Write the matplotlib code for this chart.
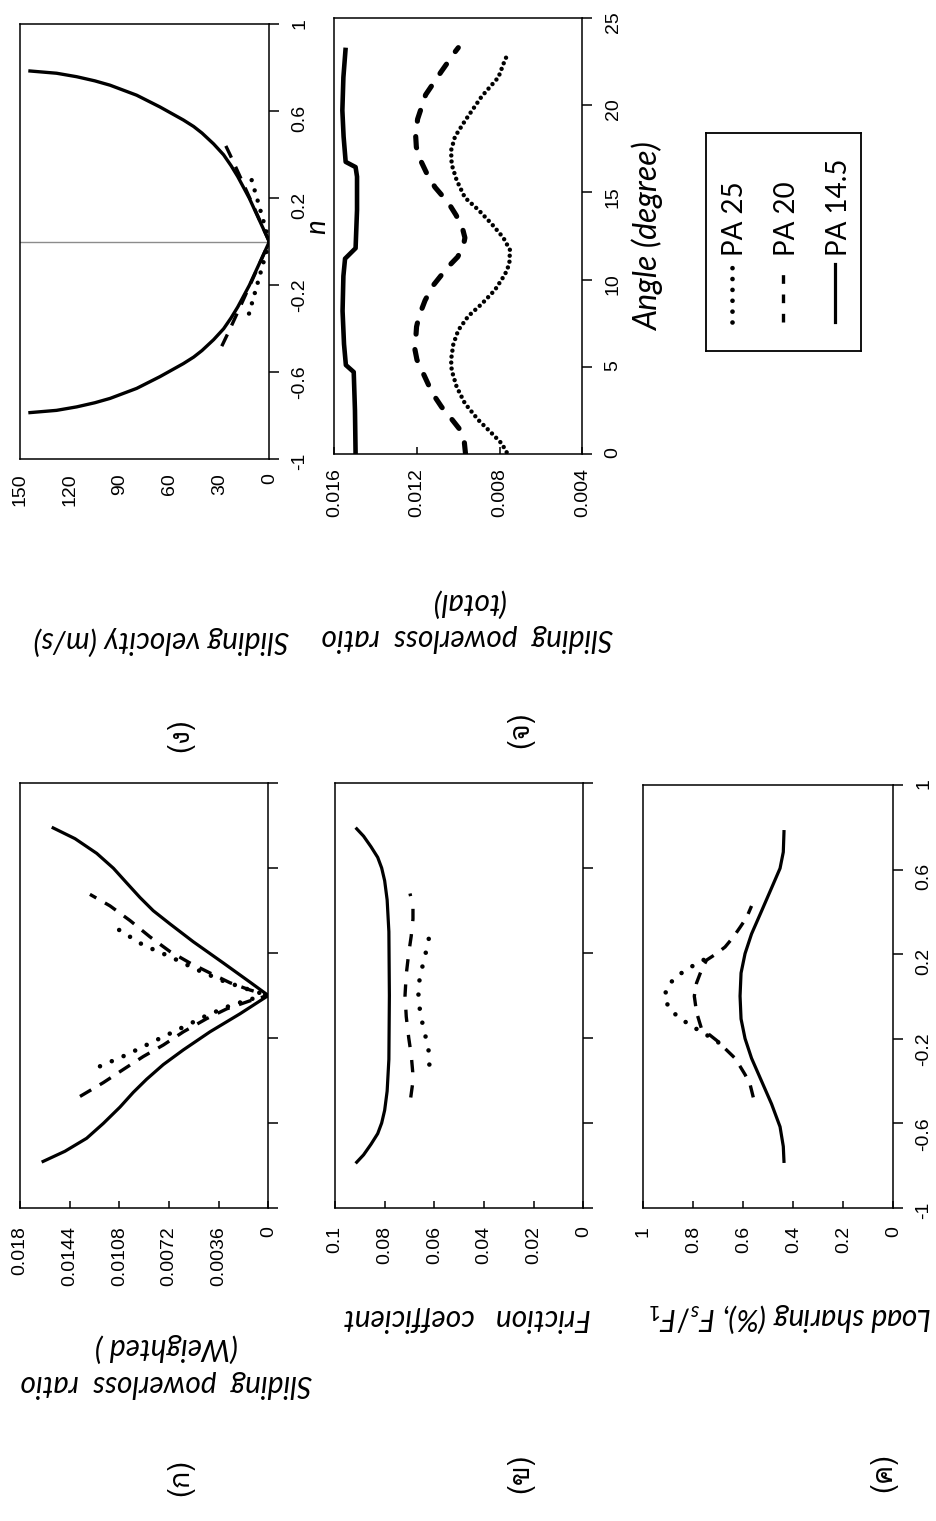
import matplotlib
matplotlib.use("Agg")
import matplotlib.pyplot as plt
from matplotlib import font_manager
from matplotlib.ft2font import FT2Font

# ---------------------------------------------------------------- data
# (ง) sliding velocity (m/s) along the path of contact n
vel_n_145 = [-0.786, -0.775, -0.759, -0.74, -0.72, -0.674, -0.62, -0.56, -0.53, -0.50, -0.45, -0.40, -0.35,
             -0.30, -0.20, -0.10, 0.0,
             0.10, 0.20, 0.30, 0.35, 0.40, 0.45, 0.50, 0.53, 0.56, 0.62, 0.674, 0.72, 0.74,
             0.759, 0.775, 0.786]
vel_145 = [145, 128, 115.9, 105, 95.8, 79.8, 65.8, 51.7, 45.5, 40.5, 33.5, 27.5, 23,
           19, 12, 6, 0,
           6, 12, 19, 23, 27.5, 33.5, 40.5, 45.5, 51.7, 65.8, 79.8, 95.8, 105,
           115.9, 128, 145]
vel_n_20 = [-0.48, -0.40, -0.30, -0.20, -0.10, 0.0, 0.10, 0.20, 0.30, 0.40, 0.48]
vel_20 = [28.6, 23.6, 17.6, 11.7, 5.8, 0, 5.8, 11.7, 17.6, 23.6, 28.6]
vel_n_25 = [-0.33, -0.20, -0.10, 0.0, 0.10, 0.20, 0.32]
vel_25 = [12.2, 7.4, 3.7, 0, 3.7, 7.4, 12.0]

# (ก) weighted sliding powerloss ratio
wpl_n_145 = [-0.784, -0.733, -0.672, -0.602, -0.525, -0.456, -0.394, -0.325, -0.256, -0.171, -0.086, 0.0,
             0.063, 0.153, 0.253, 0.337, 0.399, 0.461, 0.530, 0.599, 0.669, 0.738, 0.792]
wpl_145 = [0.01643, 0.01474, 0.01317, 0.01196, 0.01075, 0.00979, 0.00882, 0.00761, 0.00616, 0.00423, 0.00205, 0.0,
           0.00133, 0.00326, 0.00544, 0.00713, 0.00834, 0.00930, 0.01027, 0.01123, 0.01244, 0.01401, 0.01570]
wpl_n_20 = [-0.475, -0.410, -0.348, -0.287, -0.233, -0.171, -0.109, -0.063, -0.025, 0.0,
            0.026, 0.060, 0.106, 0.153, 0.207, 0.276, 0.353, 0.422, 0.476]
wpl_20 = [0.01365, 0.01196, 0.01051, 0.00906, 0.00761, 0.00616, 0.00447, 0.00302, 0.00133, 0.0,
          0.00133, 0.00278, 0.00423, 0.00568, 0.00713, 0.00858, 0.01003, 0.01148, 0.01293]
wpl_n_25 = [-0.333, -0.279, -0.217, -0.156, -0.094, -0.048, -0.018, 0.0,
            0.026, 0.068, 0.122, 0.183, 0.237, 0.314]
wpl_25 = [0.01220, 0.01027, 0.00834, 0.00640, 0.00447, 0.00278, 0.00133, 0.0,
          0.00133, 0.00326, 0.00519, 0.00713, 0.00906, 0.01095]

# (จ) total sliding powerloss ratio against roll angle (degree)
tpl_ang_145 = [0.0, 2.5, 4.7, 5.1, 6.3, 8.2, 10.2, 11.2, 11.8, 14.0, 15.9, 16.45, 16.75, 18.2, 19.7, 21.6, 23.3]
tpl_145 = [0.01497, 0.01500, 0.01506, 0.01544, 0.01553, 0.01560, 0.01556, 0.01548, 0.01497, 0.01490,
           0.01490, 0.01497, 0.01545, 0.01555, 0.01561, 0.01556, 0.01545]
tpl_ang_20 = [0.0, 0.7, 1.4, 2.0, 2.7, 3.5, 4.4, 5.4, 6.0, 6.6, 7.3, 7.9, 8.8, 9.6, 10.7, 11.3, 11.9, 12.4,
              13.0, 13.7, 14.4, 15.3, 16.1, 16.9, 17.6, 18.2, 19.2, 20.6, 21.9, 23.1, 23.3]
tpl_20 = [0.00965, 0.00971, 0.00992, 0.01032, 0.01081, 0.01126, 0.01161, 0.01200, 0.01210, 0.01206,
          0.01202, 0.01190, 0.01161, 0.01126, 0.01052, 0.01003, 0.00976, 0.00968, 0.00981, 0.01011,
          0.01048, 0.01113, 0.01153, 0.01185, 0.01203, 0.01206, 0.01197, 0.01158, 0.01084, 0.01013, 0.01000]
tpl_ang_25 = [0.1, 0.6, 1.2, 1.95, 2.9, 3.85, 4.8, 5.4, 6.3, 7.1, 7.9, 8.6, 9.4, 10.3, 10.9, 11.7, 12.4,
              13.2, 14.0, 14.7, 15.7, 16.6, 17.4, 18.2, 19.1, 20.5, 21.6, 22.6, 23.0]
tpl_25 = [0.00766, 0.00790, 0.00839, 0.00903, 0.00968, 0.01008, 0.01032, 0.01035, 0.01024, 0.01000,
          0.00952, 0.00887, 0.00823, 0.00774, 0.00753, 0.00750, 0.00782, 0.00839, 0.00903, 0.00968,
          0.01008, 0.01032, 0.01035, 0.01016, 0.00968, 0.00887, 0.00806, 0.00774, 0.00758]

# (ข) friction coefficient
fric_n_145 = [-0.79, -0.75, -0.70, -0.65, -0.60, -0.54, -0.45, -0.30, 0.0, 0.30, 0.45, 0.54, 0.60, 0.65, 0.70, 0.75, 0.79]
fric_145 = [0.0917, 0.0885, 0.0855, 0.0828, 0.0812, 0.0800, 0.0790, 0.0783, 0.0781,
            0.0783, 0.0790, 0.0800, 0.0812, 0.0828, 0.0855, 0.0885, 0.0917]
fric_n_20 = [-0.48, -0.42, -0.36, -0.28, -0.20, -0.10, 0.0, 0.10, 0.20, 0.28, 0.36, 0.42, 0.48]
fric_20 = [0.0695, 0.0688, 0.0687, 0.0693, 0.0703, 0.0713, 0.0718, 0.0713, 0.0703, 0.0693, 0.0686, 0.0686, 0.0698]
fric_n_25 = [-0.325, -0.277, -0.228, -0.182, -0.136, -0.086, -0.040, 0.006, 0.055, 0.106, 0.153, 0.199, 0.248, 0.296]
fric_25 = [0.0620, 0.0621, 0.0627, 0.0638, 0.0647, 0.0655, 0.0662, 0.0664, 0.0662, 0.0655, 0.0644, 0.0635, 0.0624, 0.0620]

# (ค) load sharing Fs/F1
load_n_145 = [-0.787, -0.709, -0.616, -0.508, -0.400, -0.292, -0.199, -0.106, 0.002,
              0.111, 0.203, 0.296, 0.404, 0.513, 0.606, 0.683, 0.787]
load_145 = [0.437, 0.440, 0.453, 0.487, 0.527, 0.567, 0.593, 0.609, 0.613,
            0.609, 0.593, 0.567, 0.527, 0.487, 0.453, 0.440, 0.437]
load_n_20 = [-0.477, -0.415, -0.369, -0.330, -0.292, -0.253, -0.214, -0.183, -0.153, -0.075, 0.002,
             0.064, 0.126, 0.172, 0.203, 0.234, 0.281, 0.327, 0.373, 0.428]
load_20 = [0.560, 0.573, 0.593, 0.613, 0.633, 0.667, 0.700, 0.733, 0.767, 0.787, 0.796,
           0.787, 0.767, 0.747, 0.707, 0.673, 0.640, 0.613, 0.587, 0.567]
load_n_25 = [-0.217, -0.191, -0.168, -0.140, -0.114, -0.083, -0.047, -0.002, 0.044, 0.080, 0.111, 0.137, 0.160, 0.180, 0.196]
load_25 = [0.700, 0.733, 0.769, 0.804, 0.840, 0.873, 0.900, 0.916, 0.904, 0.880, 0.847, 0.813, 0.780, 0.747, 0.713]

# axis ticks and their labels
n_ticks = [-1, -0.6, -0.2, 0.2, 0.6, 1]
n_ticklabels = ["-1", "-0.6", "-0.2", "0.2", "0.6", "1"]
vel_ticks = [0, 30, 60, 90, 120, 150]
vel_ticklabels = ["0", "30", "60", "90", "120", "150"]
wpl_ticks = [0, 0.0036, 0.0072, 0.0108, 0.0144, 0.018]
wpl_ticklabels = ["0", "0.0036", "0.0072", "0.0108", "0.0144", "0.018"]
tpl_ticks = [0.004, 0.008, 0.012, 0.016]
tpl_ticklabels = ["0.004", "0.008", "0.012", "0.016"]
ang_ticks = [0, 5, 10, 15, 20, 25]
ang_ticklabels = ["0", "5", "10", "15", "20", "25"]
fric_ticks = [0, 0.02, 0.04, 0.06, 0.08, 0.1]
fric_ticklabels = ["0", "0.02", "0.04", "0.06", "0.08", "0.1"]
load_ticks = [0, 0.2, 0.4, 0.6, 0.8, 1]
load_ticklabels = ["0", "0.2", "0.4", "0.6", "0.8", "1"]

legend_labels = ["PA 25", "PA 20", "PA 14.5"]

# ---------------------------------------------------------------- figure
W, H = 936, 1521
fig = plt.figure(figsize=(W / 100, H / 100), dpi=100)
fig.patch.set_facecolor("white")

TICK_FONT = "Liberation Sans"
LABEL_FONT = "Lato"
plt.rcParams["mathtext.fontset"] = "custom"
plt.rcParams["mathtext.it"] = "Lato:italic"
plt.rcParams["mathtext.rm"] = "Lato"
plt.rcParams["mathtext.bf"] = "Lato:bold"


def thai_family():
    for f in font_manager.fontManager.ttflist:
        try:
            ft = FT2Font(f.fname)
            if ft.get_char_index(ord("ก")) and ft.get_char_index(ord("ง")):
                return f.name
        except Exception:
            continue
    return "DejaVu Sans"


THAI = thai_family()


def px_axes(l, t, r, b):
    ax = fig.add_axes([l / W, 1 - b / H, (r - l) / W, (b - t) / H])
    for s in ax.spines.values():
        s.set_linewidth(1.1)
        s.set_color("black")
    return ax


def setup(ax, xt, xl, xlim, yt, yl, ylim, xlen=5, ylabels=True, xpad=9):
    ax.set_xlim(*xlim)
    ax.set_ylim(*ylim)
    ax.set_xticks(xt)
    ax.set_xticklabels(xl, fontfamily=TICK_FONT)
    ax.set_yticks(yt)
    ax.set_yticklabels(yl, fontfamily=TICK_FONT)
    ax.yaxis.tick_right()
    ax.tick_params(axis="x", direction="in", length=xlen, width=1.1, labelrotation=90,
                   labelsize=14, pad=xpad)
    ax.tick_params(axis="y", direction="out", length=7, width=1.1, labelrotation=90,
                   labelsize=14, pad=9, left=False, right=True, labelleft=False,
                   labelright=ylabels)


def solid(ax, x, y, lw=2.3):
    ax.plot(x, y, color="black", lw=lw, solid_capstyle="butt", solid_joinstyle="round")


def dashed(ax, x, y, lw=2.4, dash=(3.9, 3.0), cap="butt"):
    ax.plot(x, y, color="black", lw=lw, dashes=dash, dash_capstyle=cap)


def dotted(ax, x, y, lw=3.0, gap=2.6):
    ax.plot(x, y, color="black", lw=lw, dashes=(0.001, gap), dash_capstyle="round")


def fig_text(x, y, s, **kw):
    fig.text(x / W, 1 - y / H, s, **kw)


# (ง) sliding velocity
a1 = px_axes(20, 24.3, 269.3, 459.3)
setup(a1, vel_ticks, vel_ticklabels, (150, 0), n_ticks, n_ticklabels, (-1, 1), xlen=0, xpad=10)
a1.axhline(0, color="#8c8c8c", lw=1.0, zorder=1)
solid(a1, vel_145, vel_n_145, lw=2.4)
dashed(a1, vel_20, vel_n_20)
dotted(a1, vel_25, vel_n_25, lw=3.2, gap=2.4)

# (ก) weighted sliding powerloss ratio
a2 = px_axes(20, 783, 268.3, 1208)
setup(a2, wpl_ticks, wpl_ticklabels, (0.018, 0), n_ticks, n_ticklabels, (-1, 1), ylabels=False, xpad=13)
solid(a2, wpl_145, wpl_n_145)
dashed(a2, wpl_20, wpl_n_20)
dotted(a2, wpl_25, wpl_n_25, lw=3.3, gap=2.8)

# (จ) total sliding powerloss ratio
b1 = px_axes(334.3, 18, 582.3, 454)
setup(b1, tpl_ticks, tpl_ticklabels, (0.016, 0.004), ang_ticks, ang_ticklabels, (0, 25), xpad=10)
solid(b1, tpl_145, tpl_ang_145, lw=3.3)
dashed(b1, tpl_20, tpl_ang_20, lw=3.7, dash=(2.2, 3.0), cap="round")
dotted(b1, tpl_25, tpl_ang_25, lw=3.2, gap=1.35)

# (ข) friction coefficient
b2 = px_axes(335, 783, 583.3, 1208)
setup(b2, fric_ticks, fric_ticklabels, (0.1, 0), n_ticks, n_ticklabels, (-1, 1), ylabels=False, xpad=13)
solid(b2, fric_145, fric_n_145)
dashed(b2, fric_20, fric_n_20, dash=(3.7, 3.9))
dotted(b2, fric_25, fric_n_25, lw=3.3, gap=3.1)

# (ค) load sharing
c2 = px_axes(643.3, 785, 893.3, 1208)
setup(c2, load_ticks, load_ticklabels, (1, 0), n_ticks, n_ticklabels, (-1, 1), xpad=13)
solid(c2, load_145, load_n_145)
dashed(c2, load_20, load_n_20, dash=(3.7, 3.0))
dotted(c2, load_25, load_n_25, lw=3.3, gap=2.8)

# legend drawn in pixel units
lg = fig.add_axes([706 / W, 1 - 350.7 / H, (860.7 - 706) / W, (350.7 - 133.3) / H])
lg.set_xlim(706, 860.7)
lg.set_ylim(350.7, 133.3)
lg.set_xticks([])
lg.set_yticks([])
for s in lg.spines.values():
    s.set_linewidth(1.3)
leg_x = [731.7, 783.3, 835.0]
lg.plot([leg_x[0]] * 2, [321.7, 266.7], color="black", lw=3.4, dashes=(0.001, 2.3), dash_capstyle="round")
lg.plot([leg_x[1]] * 2, [321.7, 266.7], color="black", lw=2.4, dashes=(2.6, 3.2))
lg.plot([leg_x[2]] * 2, [321.7, 264.0], color="black", lw=2.3)
for x, lab in zip(leg_x, legend_labels):
    lg.text(x + 11.6, 256, lab, rotation=90, rotation_mode="anchor", ha="left", va="baseline",
            fontsize=20, fontfamily=LABEL_FONT)

# axis titles
lab_kw = dict(fontsize=21.5, fontfamily=LABEL_FONT, fontstyle="italic", ha="center", va="center")
fig_text(161.5, 641, "Sliding velocity (m/s)", rotation=180, **lab_kw)
fig_text(467.5, 620.5, "Sliding  powerloss  ratio\n(total)", rotation=180, linespacing=1.3, **lab_kw)
fig_text(166, 1365.5, "Sliding  powerloss  ratio\n(Weighted )", rotation=180, linespacing=1.3, **lab_kw)
fig_text(467.5, 1318, "Friction   coefficient", rotation=180, **lab_kw)
fig_text(790, 1318, r"Load sharing (%), $F_s/F_1$", rotation=180, **lab_kw)
fig_text(316.7, 226.7, "n", rotation=90, **dict(lab_kw, fontsize=20))
fig_text(648, 237, "Angle (degree)", rotation=90, **dict(lab_kw, fontsize=23))

# sub-figure letters
sub_kw = dict(fontsize=21, fontfamily=[THAI, "DejaVu Sans"], rotation=90, ha="center", va="center")
fig_text(180, 735, "(ง)", **sub_kw)
fig_text(520, 730, "(จ)", **sub_kw)
fig_text(180, 1477, "(ก)", **sub_kw)
fig_text(520, 1473, "(ข)", **sub_kw)
fig_text(883, 1473, "(ค)", **sub_kw)

fig.savefig("out.png", dpi=100, facecolor="white")
